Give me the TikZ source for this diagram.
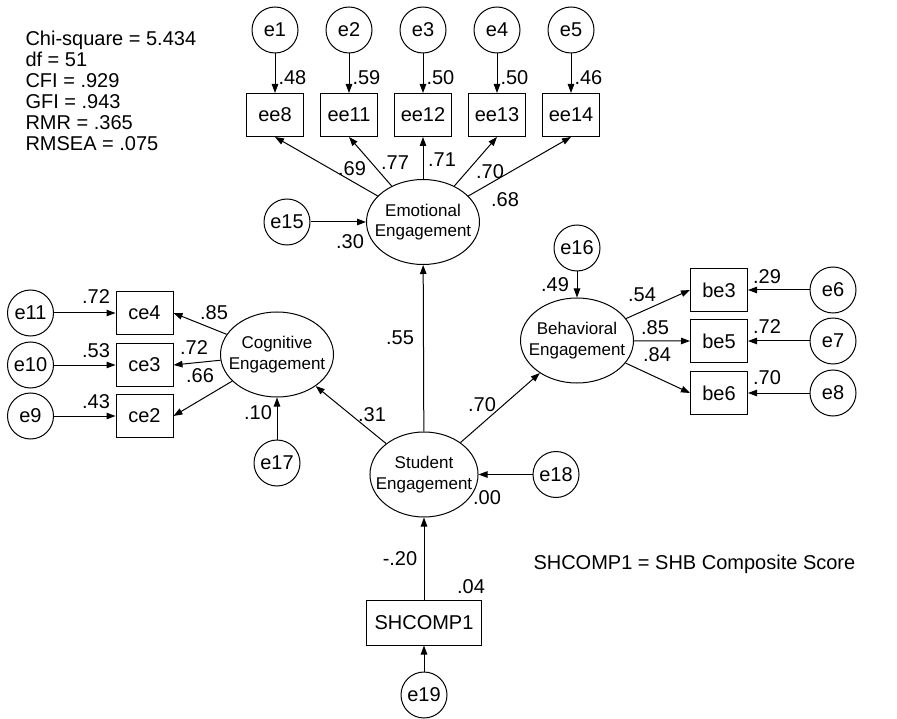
\documentclass[tikz,border=0pt]{standalone}
\usepackage{fontspec}
\setmainfont{Liberation Sans}
\usetikzlibrary{shapes,arrows.meta,calc}

\tikzset{
  latent/.style={draw, ellipse, minimum width=113pt, minimum height=85pt, inner xsep=-10pt, inner ysep=0pt, align=center, font=\fontsize{17}{20.5}\selectfont},
  observed/.style={draw, rectangle, minimum width=57pt, minimum height=43pt, inner sep=0pt, font=\fontsize{20}{24}\selectfont},
  error/.style={draw, circle, minimum size=46pt, inner sep=0pt, font=\fontsize{20}{24}\selectfont},
  coef/.style={inner sep=0pt, font=\fontsize{20}{24}\selectfont}
}

\begin{document}
\begin{tikzpicture}[x=1pt, y=-1pt, >={Triangle[length=9pt,width=6.5pt]}, line width=1pt]
  \useasboundingbox (0,0) rectangle (897,719);
  % Fit indices
  \node[anchor=north west, align=left, inner sep=0pt, font=\fontsize{20}{21}\selectfont] (fit) at (25,31) {Chi-square = 5.434\\df = 51\\CFI = .929\\GFI = .943\\RMR = .365\\RMSEA = .075};
  % Latent variables
  \node[latent] (emo) at (423,222) {Emotional\\Engagement};
  \node[latent] (cog) at (277,354.5) {Cognitive\\Engagement};
  \node[latent] (beh) at (577,340.5) {Behavioral\\Engagement};
  \node[latent, minimum width=108pt] (stu) at (424,474.5) {Student\\Engagement};
  % Observed variables
  \node[observed] (ee8) at (275,115) {ee8};
  \node[observed] (ee11) at (349,115) {ee11};
  \node[observed] (ee12) at (423,115) {ee12};
  \node[observed] (ee13) at (497,115) {ee13};
  \node[observed] (ee14) at (571,115) {ee14};
  \node[observed] (ce4) at (144.5,313) {ce4};
  \node[observed] (ce3) at (144.5,365) {ce3};
  \node[observed] (ce2) at (144.5,416) {ce2};
  \node[observed] (be3) at (719,290) {be3};
  \node[observed] (be5) at (719,341) {be5};
  \node[observed] (be6) at (719,393) {be6};
  \node[observed, minimum width=115pt, minimum height=45pt] (shc) at (424,622.5) {SHCOMP1};
  % Errors
  \node[error] (e1) at (275,30) {e1};
  \node[error] (e2) at (349,30) {e2};
  \node[error] (e3) at (423,30) {e3};
  \node[error] (e4) at (497,30) {e4};
  \node[error] (e5) at (571,30) {e5};
  \node[error] (e15) at (287,222) {e15};
  \node[error] (e11) at (30.5,313) {e11};
  \node[error] (e10) at (30.5,365) {e10};
  \node[error] (e9) at (30.5,416) {e9};
  \node[error] (e17) at (277,463) {e17};
  \node[error] (e16) at (577,248) {e16};
  \node[error] (e6) at (833,290) {e6};
  \node[error] (e7) at (833,341) {e7};
  \node[error] (e8) at (833,393) {e8};
  \node[error] (e18) at (556,474.5) {e18};
  \node[error] (e19) at (424,695) {e19};
  % Note
  \node[anchor=base west, inner sep=0pt, font=\fontsize{20}{24}\selectfont] (note) at (533,569) {SHCOMP1 = SHB Composite Score};
  % Edges
  \draw[->] (e1) -- (ee8) node[coef, pos=.6, right=3pt] {.48};
  \draw[->] (e2) -- (ee11) node[coef, pos=.6, right=3pt] {.59};
  \draw[->] (e3) -- (ee12) node[coef, pos=.6, right=3pt] {.50};
  \draw[->] (e4) -- (ee13) node[coef, pos=.6, right=3pt] {.50};
  \draw[->] (e5) -- (ee14) node[coef, pos=.6, right=3pt] {.46};
  \draw[->] (emo) -- (ee8.south) node[coef] at (352,169) {.69};
  \draw[->] (emo) -- (ee11.south) node[coef] at (395,163) {.77};
  \draw[->] (emo) -- (ee12) node[coef] at (442,160) {.71};
  \draw[->] (emo) -- (ee13.south) node[coef] at (490,172) {.70};
  \draw[->] (emo) -- (ee14.south) node[coef] at (505,200) {.68};
  \draw[->] (e15) -- (emo) node[coef] at (350,242) {.30};
  \draw[->] (cog) -- (ce4.east) node[coef] at (214,313) {.85};
  \draw[->] (cog) -- (ce3.east) node[coef] at (194,348) {.72};
  \draw[->] (cog) -- (ce2.east) node[coef] at (200,376) {.66};
  \draw[->] (e11) -- (ce4) node[coef] at (96,297) {.72};
  \draw[->] (e10) -- (ce3) node[coef] at (96,351) {.53};
  \draw[->] (e9) -- (ce2) node[coef] at (96,402) {.43};
  \draw[->] (e17) -- (cog) node[coef] at (258,413) {.10};
  \draw[->] (beh) -- (be3.west) node[coef] at (642,295) {.54};
  \draw[->] (beh) -- (be5.west) node[coef] at (655,328) {.85};
  \draw[->] (beh) -- (be6.west) node[coef] at (657,355) {.84};
  \draw[->] (e6) -- (be3) node[coef] at (767,277) {.29};
  \draw[->] (e7) -- (be5) node[coef] at (767,327) {.72};
  \draw[->] (e8) -- (be6) node[coef] at (767,378) {.70};
  \draw[->] (e16) -- (beh) node[coef] at (555,285) {.49};
  \draw[->] (stu) -- (emo) node[coef] at (400,338) {.55};
  \draw[->] (stu) -- (cog) node[coef] at (372,415) {.31};
  \draw[->] (stu) -- (beh) node[coef] at (482,405) {.70};
  \draw[->] (e18) -- (stu) node[coef] at (487,498) {.00};
  \draw[->] (shc) -- (stu) node[coef] at (400,559) {-.20};
  \draw[->] (e19) -- (shc) node[coef] at (471,587) {.04};
\end{tikzpicture}
\end{document}
